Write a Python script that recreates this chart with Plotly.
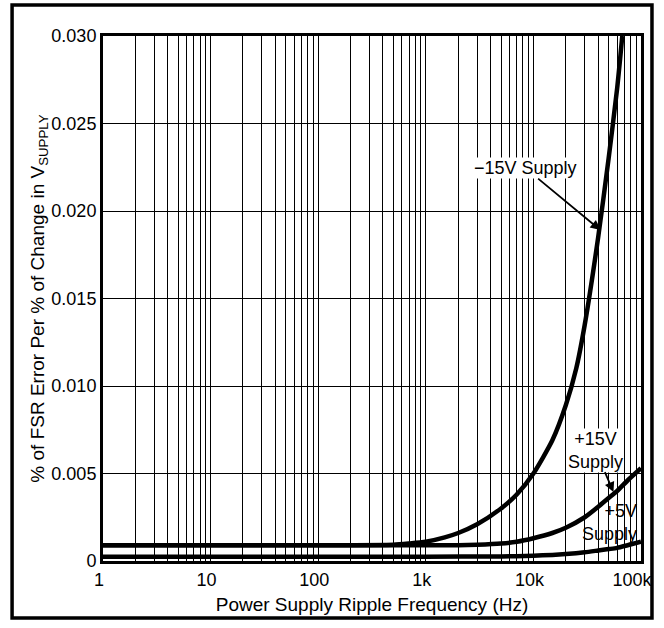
import plotly.graph_objects as go

# ---- data ----
freq_m15 = [1, 10, 100, 500, 700, 1000, 1500, 2000, 3000, 5000, 7000, 10000, 15000, 20000, 25000, 30000, 40000, 50000, 60000, 67000]
err_m15 = [0.0009, 0.0009, 0.0009, 0.00093, 0.001, 0.0011, 0.00135, 0.0016, 0.0021, 0.0030, 0.0038, 0.0050, 0.0069, 0.0089, 0.0110, 0.0135, 0.0185, 0.0230, 0.0270, 0.0300]

freq_p15 = [1, 10, 100, 1000, 2000, 3000, 5000, 7000, 10000, 15000, 20000, 30000, 40000, 50000, 60000, 75000, 100000]
err_p15 = [0.0009, 0.0009, 0.0009, 0.0009, 0.0009, 0.00093, 0.001, 0.0011, 0.0013, 0.0016, 0.0019, 0.0025, 0.0031, 0.0036, 0.0040, 0.0046, 0.0053]

freq_p5 = [1, 10, 100, 1000, 5000, 10000, 15000, 20000, 30000, 40000, 50000, 60000, 75000, 100000]
err_p5 = [0.00025, 0.00025, 0.00025, 0.00025, 0.00026, 0.0003, 0.00035, 0.0004, 0.0005, 0.0006, 0.00068, 0.00075, 0.0009, 0.0011]

x_tick_vals = [1, 10, 100, 1000, 10000, 100000]
x_tick_text = ["1", "10", "100", "1k", "10k", "100k\u00a0\u00a0"]
y_tick_vals = [0, 0.005, 0.010, 0.015, 0.020, 0.025, 0.030]
y_tick_text = ["0", "0.005", "0.010", "0.015", "0.020", "0.025", "0.030"]

FONT = "Liberation Sans, Arial, sans-serif"

fig = go.Figure()
for fx, fy in [(freq_m15, err_m15), (freq_p15, err_p15), (freq_p5, err_p5)]:
    fig.add_trace(go.Scatter(x=fx, y=fy, mode="lines",
                             line=dict(color="black", width=4.5, shape="spline", smoothing=0.6),
                             showlegend=False, cliponaxis=True))

fig.update_xaxes(type="log", range=[0, 5], tickvals=x_tick_vals, ticktext=x_tick_text,
                 showgrid=True, gridcolor="black", gridwidth=1.4,
                 minor=dict(dtick="D1", showgrid=True, gridcolor="black", gridwidth=1.2, ticks=""),
                 showline=True, linecolor="black", linewidth=3, mirror=True, ticks="",
                 ticklabelshift=-4, ticklabeloverflow="allow", automargin=False,
                 tickfont=dict(family=FONT, size=18, color="black"),
                 title=dict(text="Power Supply Ripple Frequency (Hz)",
                            font=dict(family=FONT, size=19, color="black"), standoff=10),
                 zeroline=False)
fig.update_yaxes(range=[0, 0.030], tickvals=y_tick_vals, ticktext=y_tick_text,
                 showgrid=True, gridcolor="black", gridwidth=1.4,
                 showline=True, linecolor="black", linewidth=3, mirror=True, ticks="",
                 automargin=False,
                 tickfont=dict(family=FONT, size=18, color="black"),
                 title=dict(text="% of FSR Error Per % of Change in V<sub>SUPPLY</sub>",
                            font=dict(family=FONT, size=19, color="black"), standoff=2),
                 zeroline=False)

afont = dict(family=FONT, size=18, color="black")
arrow = dict(showarrow=True, axref="pixel", ayref="pixel", arrowhead=2, arrowsize=1.1,
             arrowwidth=1.8, arrowcolor="black")
ann = [
    dict(x=4.623, y=0.01891, text="\u221215V Supply", ax=-75, ay=-62, font=afont,
         bgcolor="white", **arrow),
    dict(x=4.744, y=0.00394, text="+15V<br>Supply", ax=-18, ay=-42, font=afont,
         bgcolor="white", **arrow),
    dict(x=4.707, y=0.0022, text="+5V<br>Supply", showarrow=False, font=afont, align="right"),
]
for a in ann:
    a.update(xref="x", yref="y", borderpad=0)
fig.update_layout(annotations=ann)

# outer frame
fig.add_shape(type="rect", xref="paper", yref="paper", x0=-0.169, x1=1.0204, y0=-0.1086, y1=1.059,
              line=dict(color="black", width=3.5), layer="below")

fig.update_layout(width=664, height=628, margin=dict(l=103, r=23, t=36, b=67),
                  plot_bgcolor="white", paper_bgcolor="white",
                  font=dict(family=FONT, color="black"))

fig.write_html("out.html", config={"displayModeBar": False},
               post_script="document.body.style.margin='0px';")
